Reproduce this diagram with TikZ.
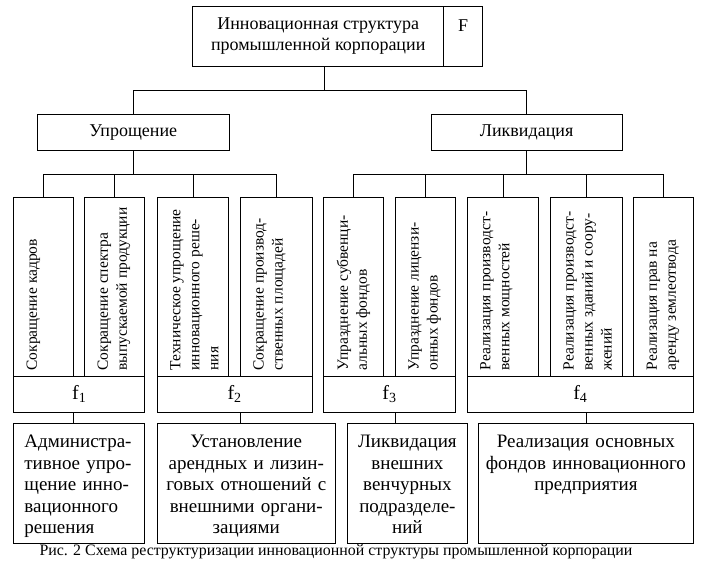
\documentclass[tikz,border=0pt]{standalone}
\usepackage{fontspec}
\setmainfont{Liberation Serif}
\begin{document}
\begin{tikzpicture}[x=1pt, y=1pt, line width=0.8pt,
		box/.style={draw, inner sep=0pt, anchor=north west},
		head/.style={box, align=center, font=\fontsize{18}{21}\selectfont},
		tall/.style={box, minimum height=178.7pt},
		vtext/.style={rotate=90, anchor=north west, align=left, inner xsep=6pt, inner ysep=13pt, font=\fontsize{15.5}{19}\selectfont},
		fbox/.style={box, minimum height=35.7pt, font=\fontsize{20}{24}\selectfont},
		res/.style={draw, anchor=north west, align=center, inner xsep=4pt, inner ysep=10pt, text height=14pt, text depth=85.4pt, font=\fontsize{19}{21.5}\selectfont}]
		\useasboundingbox (0, 0) rectangle (706, 572);

		% top level
		\node[head, minimum width=251pt, minimum height=60pt] (top) at (192.3, 566.3) {Инновационная структура\\промышленной корпорации};
		\node[head, minimum width=39pt, minimum height=60pt] (F) at (443.3, 566.3) {F\\\phantom{п}};

		\node[head, minimum width=192.3pt, minimum height=36.3pt] (upr) at (36.7, 458.3) {Упрощение};
		\node[head, minimum width=191pt, minimum height=36.3pt] (liq) at (430.7, 458.3) {Ликвидация};

		% tall boxes
		\node[tall, minimum width=59.4pt] (t1) at (13.3, 374.7) {};
		\node[tall, minimum width=60pt] (t2) at (84.3, 374.7) {};
		\node[tall, minimum width=71.6pt] (t3) at (156.7, 374.7) {};
		\node[tall, minimum width=71.7pt] (t4) at (240, 374.7) {};
		\node[tall, minimum width=60pt] (t5) at (323.3, 374.7) {};
		\node[tall, minimum width=60pt] (t6) at (395, 374.7) {};
		\node[tall, minimum width=71.6pt] (t7) at (466.7, 374.7) {};
		\node[tall, minimum width=71.7pt] (t8) at (550, 374.7) {};
		\node[tall, minimum width=60pt] (t9) at (633.3, 374.7) {};

		\node[vtext] (v1) at (t1.south west) {Сокращение кадров};
		\node[vtext] (v2) at (t2.south west) {Сокращение спектра\\выпускаемой продукции};
		\node[vtext] (v3) at (t3.south west) {Техническое упрощение\\инновационного реше-\\ния};
		\node[vtext] (v4) at (t4.south west) {Сокращение производ-\\ственных площадей};
		\node[vtext] (v5) at (t5.south west) {Упразднение субвенци-\\альных фондов};
		\node[vtext] (v6) at (t6.south west) {Упразднение лицензи-\\онных фондов};
		\node[vtext] (v7) at (t7.south west) {Реализация производст-\\венных мощностей};
		\node[vtext] (v8) at (t8.south west) {Реализация производст-\\венных зданий и соору-\\жений};
		\node[vtext] (v9) at (t9.south west) {Реализация прав на\\аренду землеотвода};

		% f boxes
		\node[fbox, minimum width=131pt] (f1) at (13.3, 196) {f\textsubscript{1}};
		\node[fbox, minimum width=155pt] (f2) at (156.7, 196) {f\textsubscript{2}};
		\node[fbox, minimum width=131.7pt] (f3) at (323.3, 196) {f\textsubscript{3}};
		\node[fbox, minimum width=226.6pt] (f4) at (466.7, 196) {f\textsubscript{4}};

		% results
		\node[res, align=left, inner xsep=10.7pt, text width=109.6pt] (b1) at (13.3, 148.7) {Администра-\\тивное упро-\\щение инно-\\вационного\\решения};
		\node[res, text width=170.3pt] (b2) at (156.7, 148.7) {Установление\\арендных и лизин-\\говых отношений с\\внешними органи-\\зациями};
		\node[res, text width=111.4pt] (b3) at (347.3, 148.7) {Ликвидация\\внешних\\венчурных\\подразделе-\\ний};
		\node[res, text width=206.4pt] (b4) at (478.3, 148.7) {Реализация основных\\фондов инновационного\\предприятия};

		\node (cap) at (336, 20) {\fontsize{15.9}{18}\selectfont Рис. 2 Схема реструктуризации инновационной структуры промышленной корпорации};

		% connectors
		\draw ([xshift=6pt]top.south) -- ++(0, -23.6) -| (upr.north);
		\draw ([xshift=6pt]top.south) -- ++(0, -23.6) -| (liq.north);
		\foreach \t in {t1, t2, t3, t4}
			\draw (upr.south) -- ++(0, -23.3) -| (\t.north);
		\foreach \t in {t5, t6, t7, t8, t9}
			\draw (liq.south) -- ++(0, -23.3) -| (\t.north);

		\draw (t1.east |- f1.south) -- (t1.east |- b1.north);
		\draw (t4.west |- f2.south) -- (t4.west |- b2.north);
		\draw (t6.west |- f3.south) -- (t6.west |- b3.north);
		\draw (t8.north |- f4.south) -- (t8.north |- b4.north);
	\end{tikzpicture}
\end{document}
